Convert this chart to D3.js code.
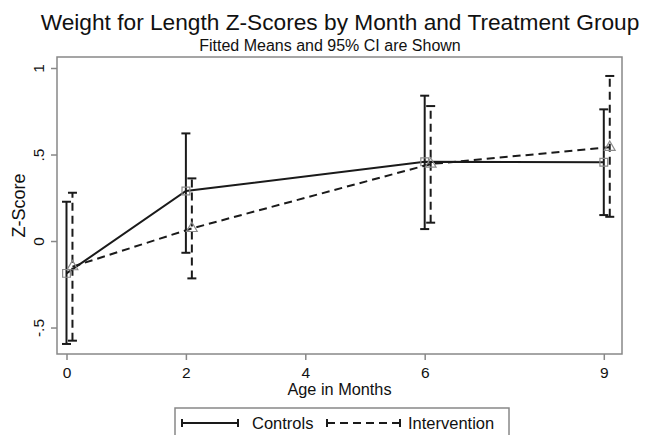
<!DOCTYPE html>
<html><head><meta charset="utf-8">
<script src="https://cdn.jsdelivr.net/npm/d3@7"></script>
<style>body{margin:0;background:#fff}svg{display:block;font-family:"Liberation Sans",Arial,sans-serif}</style>
</head><body><svg id="c" width="646" height="435"></svg>
<script>
const months = [0, 2, 6, 9];
const controlsMean = [-0.187, 0.289, 0.458, 0.455];
const controlsLo = [-0.595, -0.068, 0.069, 0.150];
const controlsHi = [0.227, 0.622, 0.840, 0.761];
const interventionMean = [-0.148, 0.073, 0.445, 0.542];
const interventionLo = [-0.576, -0.216, 0.106, 0.140];
const interventionHi = [0.279, 0.362, 0.780, 0.954];
const interventionOffset = 0.1;
const xTicks = [0, 2, 4, 6, 9];
const yTicks = [-0.5, 0, 0.5, 1];
const yTickLabels = ["-.5", "0", ".5", "1"];

const svg = d3.select("#c");
const L = 57, R = 622, T = 57, B = 354;
const x = d3.scaleLinear().domain([-0.159, 9.305]).range([L, R]);
const y = d3.scaleLinear().domain([-0.653, 1.0636]).range([B, T]);
const FF = "Liberation Sans, Arial, sans-serif";

svg.append("text").attr("x", 340).attr("y", 30).attr("text-anchor", "middle")
  .attr("font-size", 22.7).attr("fill", "#111").text("Weight for Length Z-Scores by Month and Treatment Group");
svg.append("text").attr("x", 330).attr("y", 51).attr("text-anchor", "middle")
  .attr("font-size", 16).attr("fill", "#111").text("Fitted Means and 95% CI are Shown");

svg.append("rect").attr("x", L).attr("y", T).attr("width", R - L).attr("height", B - T)
  .attr("fill", "#fff").attr("stroke", "#888").attr("stroke-width", 1.5);

const xAxis = svg.append("g").attr("transform", `translate(0,${B})`)
  .call(d3.axisBottom(x).tickValues(xTicks).tickSize(6).tickPadding(7).tickFormat(d3.format("d")));
xAxis.select(".domain").remove();
xAxis.selectAll("line").attr("stroke", "#888").attr("stroke-width", 1.5);
xAxis.selectAll("text").attr("font-size", 15.5).attr("fill", "#111").attr("font-family", FF);

const yAxis = svg.append("g").attr("transform", `translate(${L},0)`)
  .call(d3.axisLeft(y).tickValues(yTicks).tickSize(6).tickFormat((d, i) => yTickLabels[i]));
yAxis.select(".domain").remove();
yAxis.selectAll("line").attr("stroke", "#888").attr("stroke-width", 1.5);
yAxis.selectAll("text").attr("font-size", 15.5).attr("fill", "#111").attr("font-family", FF)
  .attr("text-anchor", "middle").attr("dy", null).attr("x", 0).attr("y", 0)
  .attr("transform", "translate(-13,0) rotate(-90)");

svg.append("text").attr("transform", `translate(24.5,${(T + B) / 2}) rotate(-90)`).attr("text-anchor", "middle")
  .attr("font-size", 18).attr("fill", "#111").text("Z-Score");
svg.append("text").attr("x", (L + R) / 2).attr("y", 395).attr("text-anchor", "middle")
  .attr("font-size", 16.3).attr("fill", "#111").text("Age in Months");

const series = [
  {mean: controlsMean, lo: controlsLo, hi: controlsHi, off: 0, dash: null, marker: "square"},
  {mean: interventionMean, lo: interventionLo, hi: interventionHi, off: interventionOffset, dash: "8,5", marker: "triangle"}
];
const lineCol = "#1a1a1a";
series.forEach(s => {
  const pts = months.map((m, i) => ({x: m + s.off, m: s.mean[i], lo: s.lo[i], hi: s.hi[i]}));
  const g = svg.append("g");
  pts.forEach(p => {
    g.append("line").attr("x1", x(p.x)).attr("x2", x(p.x)).attr("y1", y(p.lo)).attr("y2", y(p.hi))
      .attr("stroke", lineCol).attr("stroke-width", 2).attr("stroke-dasharray", s.dash);
    [p.lo, p.hi].forEach(v => g.append("line").attr("x1", x(p.x) - 4.5).attr("x2", x(p.x) + 4.5)
      .attr("y1", y(v)).attr("y2", y(v)).attr("stroke", lineCol).attr("stroke-width", 2));
  });
  g.append("path").datum(pts).attr("fill", "none").attr("stroke", lineCol).attr("stroke-width", 2)
    .attr("stroke-dasharray", s.dash).attr("d", d3.line().x(d => x(d.x)).y(d => y(d.m)));
  pts.forEach(p => {
    const sym = s.marker === "square" ? d3.symbolSquare : d3.symbolTriangle;
    g.append("path").attr("d", d3.symbol().type(sym).size(s.marker === "square" ? 60 : 50)())
      .attr("transform", `translate(${x(p.x)},${y(p.m)})`).attr("fill", "none").attr("stroke", "#8a8a8a").attr("stroke-width", 1.2);
  });
});

const lg = svg.append("g");
lg.append("rect").attr("x", 175).attr("y", 408).attr("width", 334).attr("height", 40)
  .attr("fill", "#fff").attr("stroke", "#888").attr("stroke-width", 1.5);
const legendItems = [
  {label: "Controls", x1: 182, x2: 238, tx: 252, dash: null},
  {label: "Intervention", x1: 327, x2: 400, tx: 408, dash: "8,5"}
];
legendItems.forEach(it => {
  const yy = 423;
  lg.append("line").attr("x1", it.x1).attr("x2", it.x2).attr("y1", yy).attr("y2", yy)
    .attr("stroke", lineCol).attr("stroke-width", 2).attr("stroke-dasharray", it.dash);
  [it.x1, it.x2].forEach(xx => lg.append("line").attr("x1", xx).attr("x2", xx).attr("y1", yy - 4).attr("y2", yy + 4)
    .attr("stroke", lineCol).attr("stroke-width", 2));
  lg.append("text").attr("x", it.tx).attr("y", yy + 6).attr("font-size", 16.5).attr("fill", "#111").text(it.label);
});
</script></body></html>
